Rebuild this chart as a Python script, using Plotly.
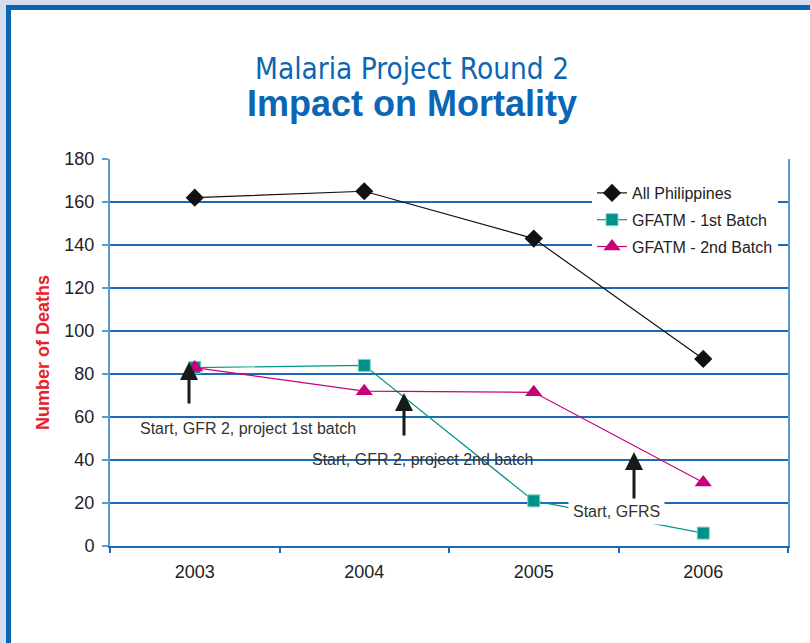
import plotly.graph_objects as go

years = ["2003", "2004", "2005", "2006"]
all_philippines = [162, 165, 143, 87]
gfatm_1st = [83, 84, 21, 6]
gfatm_2nd = [83, 72, 71.5, 29.5]
y_ticks = [0, 20, 40, 60, 80, 100, 120, 140, 160, 180]

W, H = 810, 643
L, R, T, B = 110, 22, 159, 97
PW, PH = W - L - R, H - T - B


def px_x(px):
    return (px - L) / PW


def px_y(py):
    return (H - B - py) / PH


BLUE = "#0b66b4"
GRID = "#1a6ab8"
AXIS_L = "#5b9bd5"
TXT = "#222222"
FONT = "Liberation Sans, Arial, sans-serif"

fig = go.Figure()
fig.add_trace(go.Scatter(
    x=years, y=all_philippines, name="All Philippines", mode="lines+markers",
    line=dict(color="#111111", width=1.2),
    marker=dict(symbol="diamond", size=14, color="#111111"),
    legendgroup="a"))
fig.add_trace(go.Scatter(
    x=years, y=gfatm_1st, name="GFATM - 1st Batch", mode="lines+markers",
    line=dict(color="#009688", width=1.2),
    marker=dict(symbol="square", size=12, color="#00908a",
                line=dict(color="#7fcfc8", width=1)),
    legendgroup="b"))
fig.add_trace(go.Scatter(
    x=years, y=gfatm_2nd, name="GFATM - 2nd Batch", mode="lines+markers",
    line=dict(color="#c8007a", width=1.2),
    marker=dict(symbol="triangle-up", size=15, color="#c8007a"),
    legendgroup="c"))

shapes = [
    dict(type="rect", xref="paper", yref="paper", layer="below",
         x0=px_x(8.5), x1=px_x(830), y0=px_y(670), y1=px_y(7.5),
         line=dict(color="#0a64b4", width=5), fillcolor="white"),
]

annotations = [
    dict(text="Malaria Project Round 2", xref="paper", yref="paper",
         x=px_x(412), y=px_y(69), xanchor="center", yanchor="middle",
         showarrow=False,
         font=dict(family="DejaVu Sans Condensed, Arial", size=29.5, color=BLUE)),
    dict(text="<b>Impact on Mortality</b>", xref="paper", yref="paper",
         x=px_x(412), y=px_y(104), xanchor="center", yanchor="middle",
         showarrow=False,
         font=dict(family=FONT, size=36, color=BLUE)),
    # arrows
    dict(text="", xref="paper", yref="paper", x=px_x(189), y=px_y(362),
         ax=0, ay=43, showarrow=True, arrowhead=2, arrowsize=1.2, arrowwidth=3,
         arrowcolor="#1a1a1a"),
    dict(text="", xref="paper", yref="paper", x=px_x(404), y=px_y(393),
         ax=0, ay=44, showarrow=True, arrowhead=2, arrowsize=1.2, arrowwidth=3,
         arrowcolor="#1a1a1a"),
    dict(text="", xref="paper", yref="paper", x=px_x(634), y=px_y(452),
         ax=0, ay=58, showarrow=True, arrowhead=2, arrowsize=1.2, arrowwidth=3,
         arrowcolor="#1a1a1a"),
    # labels
    dict(text="Start, GFR 2, project 1st batch", xref="paper", yref="paper",
         x=px_x(248), y=px_y(428), xanchor="center", yanchor="middle",
         showarrow=False, font=dict(family=FONT, size=16, color="#333333")),
    dict(text="Start, GFR 2, project 2nd batch", xref="paper", yref="paper",
         x=px_x(422), y=px_y(459), xanchor="center", yanchor="middle",
         showarrow=False, font=dict(family=FONT, size=16, color="#333333")),
    dict(text="Start, GFRS", xref="paper", yref="paper",
         x=px_x(616), y=px_y(511), xanchor="center", yanchor="middle",
         showarrow=False, bgcolor="white", borderpad=4,
         font=dict(family=FONT, size=16, color="#333333")),
]

fig.update_layout(
    width=W, height=H,
    margin=dict(l=L, r=R, t=T, b=B, autoexpand=False),
    paper_bgcolor="#d4ddee",
    plot_bgcolor="white",
    font=dict(family=FONT, size=18, color=TXT),
    showlegend=True,
    legend=dict(x=px_x(592), y=px_y(176), xanchor="left", yanchor="top",
                bgcolor="white", font=dict(family=FONT, size=16, color=TXT),
                tracegroupgap=3, itemwidth=30),
    shapes=shapes,
    annotations=annotations,
    xaxis=dict(type="category", tickson="boundaries", showgrid=False,
               showline=True, linecolor=GRID, linewidth=2, automargin=False,
               ticks="outside", ticklen=5, tickcolor=GRID, tickwidth=2,
               tickfont=dict(size=18, color=TXT), ticklabelstandoff=8,
               range=[-0.5, 3.5]),
    yaxis=dict(range=[0, 180], tickvals=y_ticks, showgrid=True,
               gridcolor=GRID, gridwidth=1.5, zeroline=False, automargin=False,
               showline=True, linecolor=AXIS_L, linewidth=2, mirror=True,
               ticks="outside", ticklen=6, tickcolor=AXIS_L, tickwidth=2,
               tickfont=dict(size=18, color=TXT), ticklabelstandoff=4,
               title=dict(text="<b>Number of Deaths</b>", standoff=10,
                          font=dict(size=18, color="#e8202a"))),
)

fig.write_html("out.html", config={"displayModeBar": False},
               post_script="document.body.style.margin='0';document.body.style.overflow='hidden';")
